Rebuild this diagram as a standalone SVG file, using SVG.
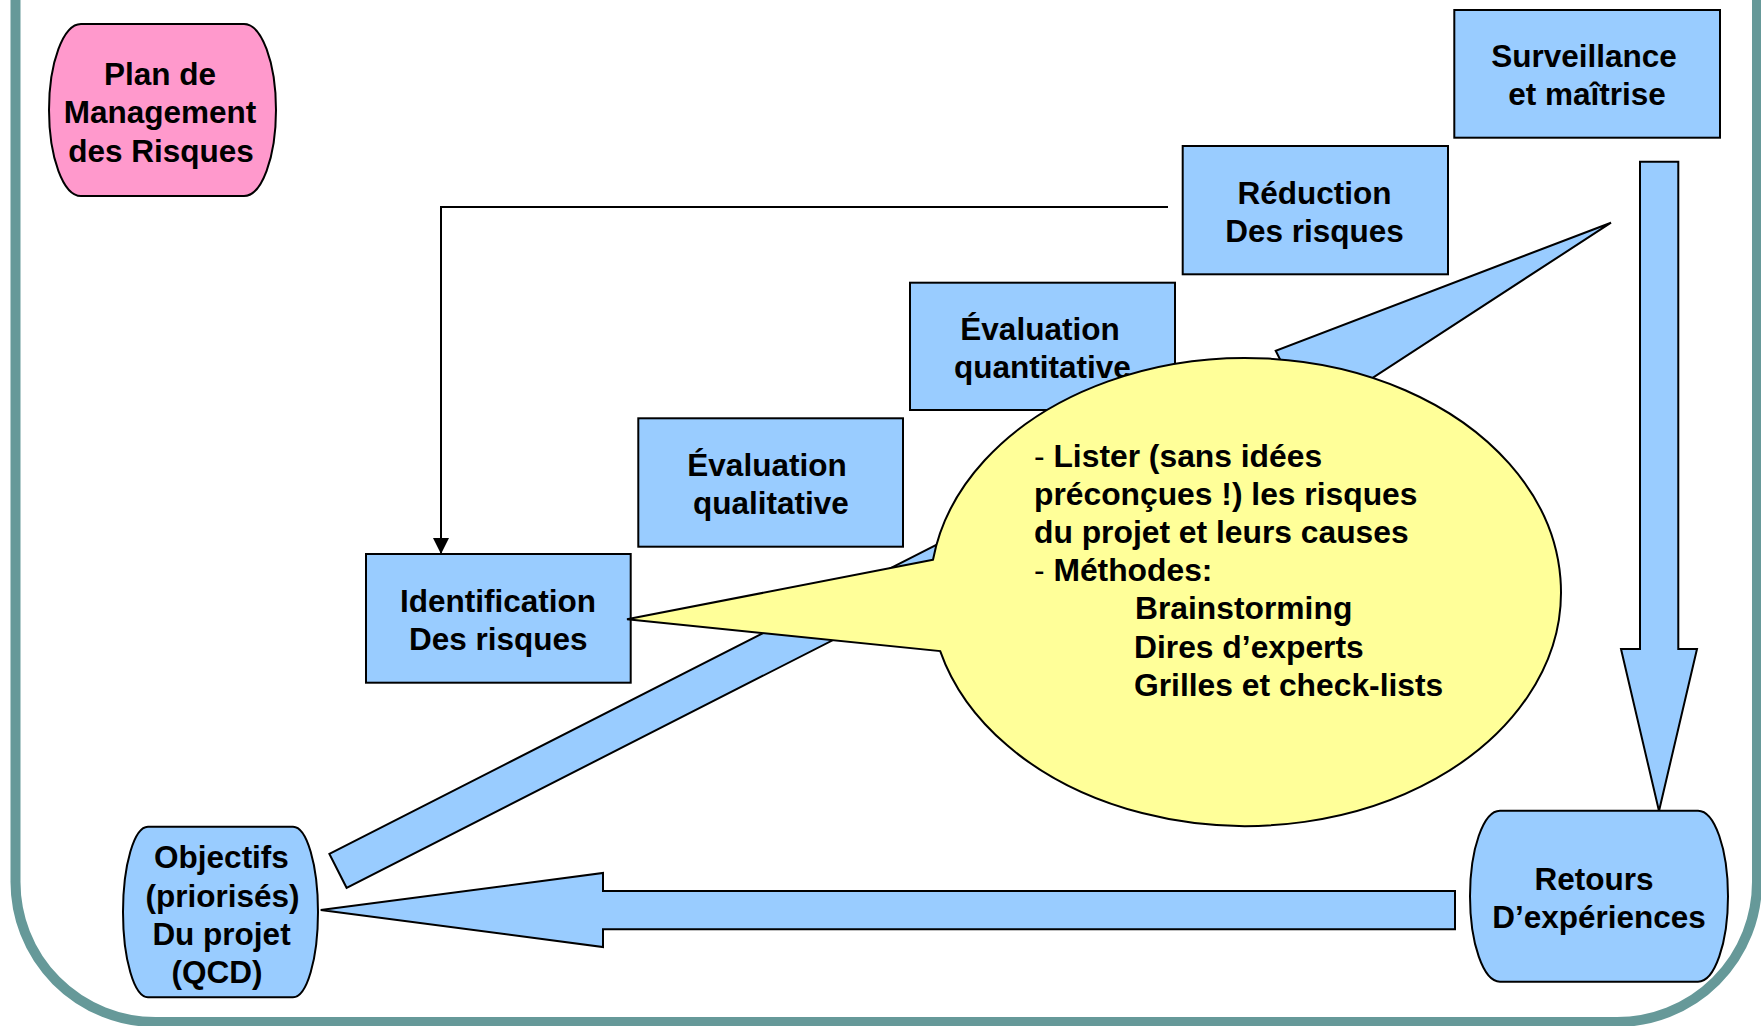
<svg xmlns="http://www.w3.org/2000/svg" width="1761" height="1026" viewBox="0 0 1761 1026">
<style>
.box{fill:#99CCFF;stroke:#000;stroke-width:2}
.pink{fill:#FF99CC;stroke:#000;stroke-width:2}
.blk{fill:#99CCFF;stroke:#000;stroke-width:2;stroke-linejoin:miter}
.t{font-family:"Liberation Sans",Arial,sans-serif;font-weight:bold;font-size:31.5px;fill:#000;text-anchor:middle}
.bt{font-family:"Liberation Sans",Arial,sans-serif;font-weight:bold;font-size:31.8px;fill:#000}
.n{font-weight:normal}
</style>
<defs>
<marker id="ah" markerWidth="16" markerHeight="16" refX="16" refY="8" orient="auto" markerUnits="userSpaceOnUse">
<path d="M0,0 L16,8 L0,16 Z" fill="#000"/>
</marker>
</defs>
<rect width="1761" height="1026" fill="#fff"/>
<path d="M15.5,-10 V881 A140 140 0 0 0 155.5,1022 H1616 A140 140 0 0 0 1757,881 V-10" fill="none" stroke="#669999" stroke-width="10"/>

<g id="connectors">
<polyline points="1168,207 441,207 441,554" fill="none" stroke="#000" stroke-width="2" marker-end="url(#ah)"/>
<polygon class="blk" points="1640,161.7 1678.3,161.7 1678.3,649 1697,649 1659,811 1621,649 1640,649"/>
<polygon class="blk" points="1455,891 1455,929.3 603,929.3 603,947 320.7,910 603,873 603,891"/>
<polygon class="blk" points="329.4,853.9 1284.3,367.7 1275.7,350.7 1611,222.7 1310.1,418.5 1301.5,401.5 346.6,887.8"/>
</g>

<g id="plan">
<path class="pink" d="M81,24 H244 A32 86 0 0 1 244,196 H81 A32 86 0 0 1 81,24 Z"/>
<text class="t" x="160" y="85.2">Plan de</text>
<text class="t" x="160" y="123.4">Management</text>
<text class="t" x="161" y="161.6">des Risques</text>
</g>

<g id="surveillance">
<rect class="box" x="1454.3" y="10" width="265.7" height="127.7"/>
<text class="t" x="1584" y="67">Surveillance</text>
<text class="t" x="1587" y="105.2">et maîtrise</text>
</g>

<g id="reduction">
<rect class="box" x="1182.7" y="146" width="265.3" height="128.3"/>
<text class="t" x="1314.5" y="203.5">Réduction</text>
<text class="t" x="1314.5" y="241.7">Des risques</text>
</g>

<g id="eval-quanti">
<rect class="box" x="910" y="282.7" width="265" height="127.3"/>
<text class="t" x="1040" y="340">Évaluation</text>
<text class="t" x="1042.5" y="378.2">quantitative</text>
</g>

<g id="eval-quali">
<rect class="box" x="638.3" y="418.3" width="264.7" height="128.4"/>
<text class="t" x="767" y="476">Évaluation</text>
<text class="t" x="771" y="514.2">qualitative</text>
</g>

<g id="identification">
<rect class="box" x="366" y="554" width="264.7" height="128.7"/>
<text class="t" x="498" y="611.7">Identification</text>
<text class="t" x="498.3" y="649.9">Des risques</text>
</g>

<g id="objectifs">
<path class="box" d="M148,826.7 H293 A25 85.3 0 0 1 293,997.3 H148 A25 85.3 0 0 1 148,826.7 Z"/>
<text class="t" x="221.5" y="868.4">Objectifs</text>
<text class="t" x="222.5" y="906.6">(priorisés)</text>
<text class="t" x="221.5" y="944.8">Du projet</text>
<text class="t" x="217" y="983">(QCD)</text>
</g>

<g id="retours">
<path class="box" d="M1500,810.7 H1698 A30 85.5 0 0 1 1698,981.7 H1500 A30 85.5 0 0 1 1500,810.7 Z"/>
<text class="t" x="1594" y="889.6">Retours</text>
<text class="t" x="1599" y="927.8">D’expériences</text>
</g>

<g id="bulle">
<path d="M933,559.7 L627,619.3 L940.2,651.1 A315.5 234 0 1 0 933,559.7 Z" fill="#FFFF99" stroke="#000" stroke-width="2"/>
<text class="bt" x="1034" y="466.5"><tspan class="n">- </tspan>Lister (sans idées</text>
<text class="bt" x="1034" y="504.7">préconçues !) les risques</text>
<text class="bt" x="1034" y="542.9">du projet et leurs causes</text>
<text class="bt" x="1034" y="581.1"><tspan class="n">- </tspan>Méthodes:</text>
<text class="bt" x="1135" y="619.3">Brainstorming</text>
<text class="bt" x="1134" y="657.5">Dires d’experts</text>
<text class="bt" x="1134" y="695.7">Grilles et check-lists</text>
</g>
</svg>
